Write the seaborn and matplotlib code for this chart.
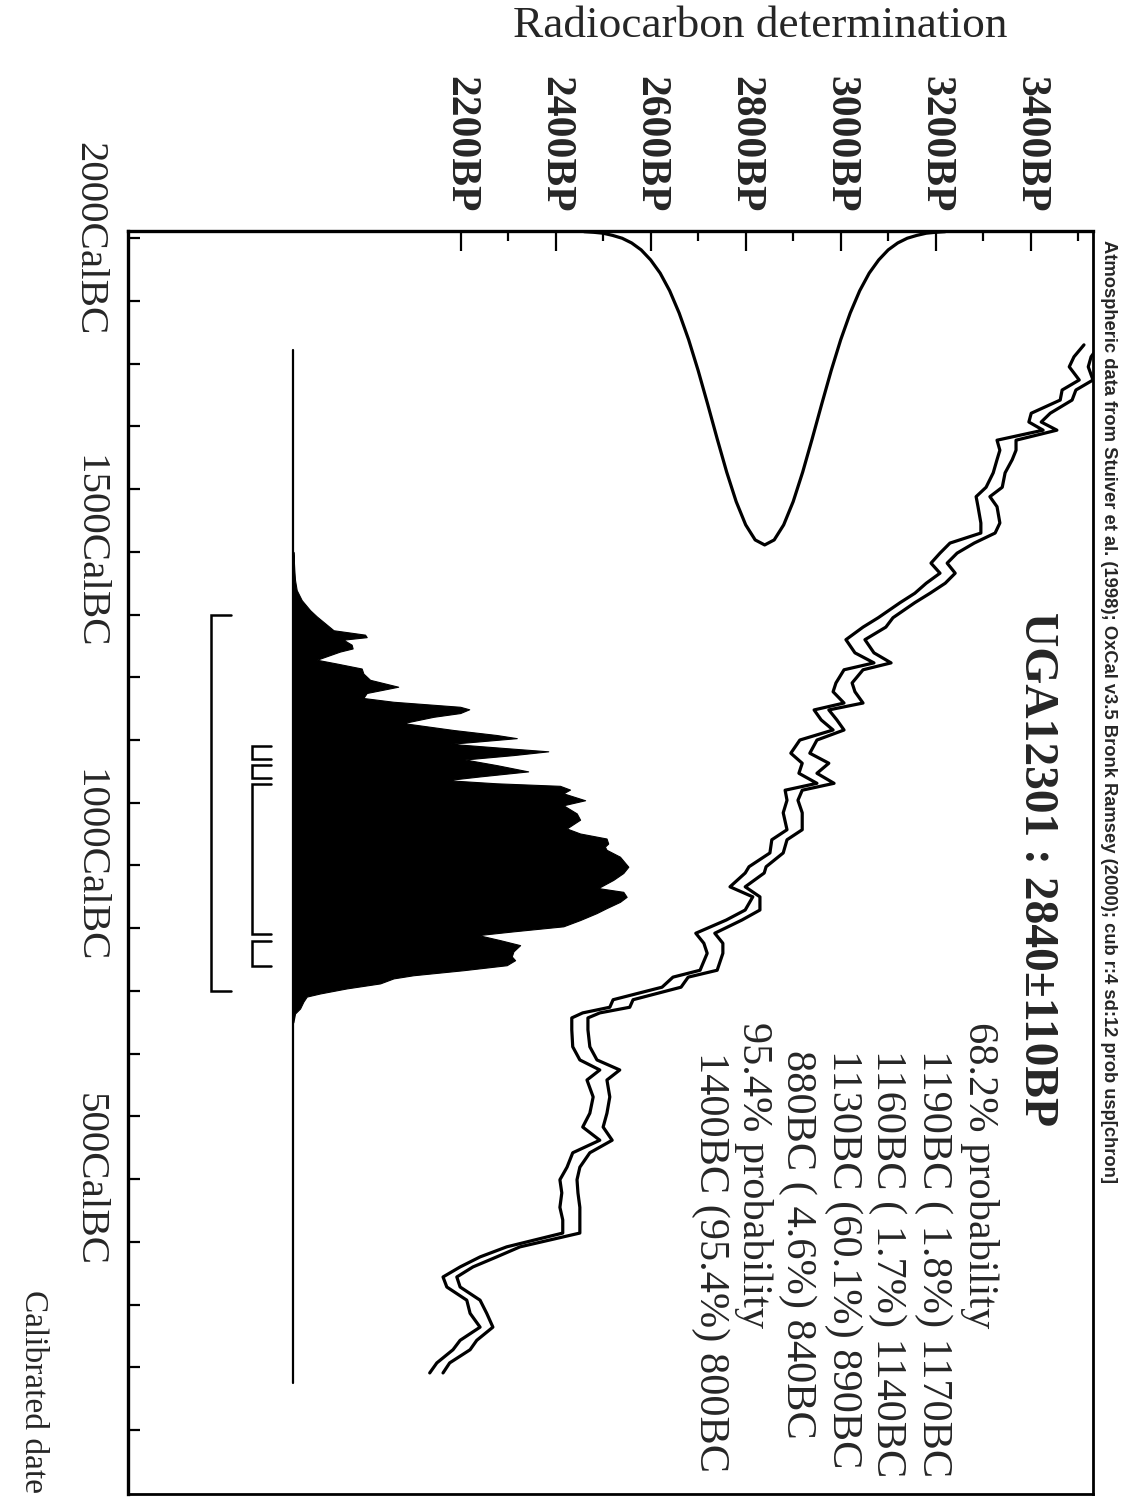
import numpy as np
import pandas as pd
import matplotlib
matplotlib.use("Agg")
import matplotlib.pyplot as plt
import seaborn as sns
from matplotlib import font_manager

# ---------------- data ----------------
# calibration curve (date in cal BC, lower / upper 1-sigma line in BP)
cal_dates = [1830, 1811, 1795, 1774, 1758, 1742, 1721, 1707, 1694, 1678, 1662, 1647, 1626, 1603, 1588, 1572,
             1546, 1530, 1514, 1498, 1482, 1466, 1450, 1434, 1419, 1395, 1380, 1360, 1339, 1323, 1312,
             1291, 1277, 1259, 1248, 1232, 1216, 1200, 1179, 1163, 1147, 1131, 1120, 1104, 1084, 1057,
             1041, 1020, 998, 988, 966, 950, 929, 913, 892, 876, 860, 833, 822, 806, 786,
             774, 765, 757, 738, 711, 690, 674, 658, 631, 605, 583, 562, 542, 519, 499,
             478, 455, 435, 414, 392, 376, 360, 344, 328, 307, 286, 264, 243, 228, 207, 191]
cal_lo = [3512, 3491, 3481, 3502, 3466, 3462, 3401, 3396, 3426, 3329, 3335, 3329, 3321, 3306, 3285, 3289,
          3295, 3295, 3230, 3209, 3190, 3209, 3180, 3156, 3125, 3079, 3047, 3011, 3030, 3070, 3007,
          2990, 2984, 3007, 2944, 2959, 2984, 2914, 2895, 2919, 2912, 2950, 2883, 2887, 2879, 2887,
          2855, 2851, 2807, 2799, 2767, 2815, 2799, 2759, 2695, 2712, 2719, 2704, 2647, 2624, 2521,
          2514, 2457, 2434, 2434, 2436, 2451, 2493, 2466, 2479, 2472, 2457, 2493, 2436, 2424, 2409,
          2413, 2409, 2415, 2415, 2297, 2241, 2199, 2163, 2171, 2213, 2220, 2241, 2199, 2184, 2150, 2135]
cal_hi = [3545, 3527, 3521, 3531, 3495, 3487, 3441, 3422, 3455, 3369, 3369, 3361, 3346, 3340, 3314, 3329,
          3335, 3325, 3281, 3245, 3224, 3241, 3220, 3188, 3156, 3110, 3095, 3051, 3070, 3106, 3047,
          3024, 3030, 3047, 2975, 2992, 3007, 2950, 2935, 2975, 2950, 2986, 2919, 2910, 2919, 2919,
          2887, 2879, 2843, 2839, 2799, 2830, 2830, 2792, 2735, 2752, 2752, 2740, 2679, 2664, 2563,
          2556, 2493, 2468, 2468, 2472, 2487, 2535, 2508, 2514, 2508, 2500, 2519, 2472, 2451, 2445,
          2447, 2451, 2451, 2451, 2325, 2276, 2226, 2192, 2199, 2241, 2255, 2268, 2234, 2220, 2177, 2163]

# radiocarbon determination 2840 +/- 110 BP (relative heights)
gauss_bp = [2460, 2480, 2500, 2520, 2540, 2560, 2580, 2600, 2620, 2640, 2660, 2680, 2700, 2720,
            2740, 2760, 2780, 2800, 2820, 2840, 2860, 2880, 2900, 2920, 2940, 2960, 2980, 3000,
            3020, 3040, 3060, 3080, 3100, 3120, 3140, 3160, 3180, 3200, 3220]
gauss_h = [0.003, 0.005, 0.008, 0.015, 0.024, 0.039, 0.061, 0.093, 0.135, 0.191, 0.262, 0.347, 0.445, 0.552,
           0.662, 0.768, 0.862, 0.936, 0.984, 1.0, 0.984, 0.936, 0.862, 0.768, 0.662, 0.552, 0.445, 0.347,
           0.262, 0.191, 0.135, 0.093, 0.061, 0.039, 0.024, 0.015, 0.008, 0.005, 0.003]

# calibrated (posterior) probability distribution, relative height
post_dates = [1500, 1470, 1455, 1439, 1423, 1407, 1397, 1386, 1375, 1368, 1364, 1360, 1352, 1346, 1341,
              1328, 1322, 1314, 1306, 1296, 1285, 1275, 1267, 1261, 1253, 1249, 1243, 1237, 1227, 1216,
              1208, 1203, 1197, 1194, 1187, 1182, 1176, 1169, 1160, 1150, 1142, 1136, 1131, 1127, 1121,
              1115, 1104, 1096, 1083, 1073, 1059, 1051, 1043, 1035, 1030, 1025, 1014, 998, 988, 977,
              964, 958, 950, 942, 932, 924, 913, 903, 895, 889, 881, 873, 863, 855, 849,
              841, 833, 825, 820, 812, 804, 796, 791, 783, 772, 764, 750]
post_p = [0.0, 0.003, 0.005, 0.01, 0.025, 0.05, 0.07, 0.095, 0.12, 0.214, 0.219, 0.149, 0.174, 0.177, 0.139,
          0.07, 0.129, 0.204, 0.209, 0.229, 0.313, 0.219, 0.209, 0.299, 0.498, 0.525, 0.498, 0.418, 0.328, 0.478,
          0.607, 0.667, 0.537, 0.468, 0.637, 0.761, 0.657, 0.512, 0.607, 0.701, 0.557, 0.458, 0.607, 0.796, 0.826,
          0.806, 0.871, 0.806, 0.846, 0.856, 0.816, 0.856, 0.935, 0.940, 0.930, 0.935, 0.975, 1.0, 0.985, 0.955,
          0.910, 0.985, 0.995, 0.975, 0.935, 0.905, 0.856, 0.806, 0.657, 0.552, 0.617, 0.677, 0.657, 0.652, 0.662,
          0.637, 0.507, 0.358, 0.299, 0.259, 0.159, 0.080, 0.040, 0.030, 0.020, 0.005, 0.0]
calib_range = [1822, 175]          # date span of the calibrated plot baseline

# probability ranges (start BC, end BC)
ranges_68 = [(1190, 1170), (1160, 1140), (1130, 890), (880, 840)]
ranges_95 = [(1400, 800)]

bp_ticks = [2200, 2400, 2600, 2800, 3000, 3200, 3400]
bp_minor = [2300, 2500, 2700, 2900, 3100, 3300, 3500]
date_ticks = [2000, 1500, 1000, 500]
date_minor = list(range(100, 2000, 100))

title = "UGA12301 : 2840\u00b1110BP"
prob_lines = ["68.2% probability",
              "1190BC ( 1.8%) 1170BC",
              "1160BC ( 1.7%) 1140BC",
              "1130BC (60.1%) 890BC",
              "880BC ( 4.6%) 840BC",
              "95.4% probability",
              "1400BC (95.4%) 800BC"]
credit = ("Atmospheric data from Stuiver et al. (1998); OxCal v3.5 Bronk Ramsey (2000); "
          "cub r:4 sd:12 prob usp[chron]")

# ---------------- style / layout ----------------
sns.set_theme(style="white")
plt.rcParams['font.family'] = ['Liberation Serif', 'DejaVu Serif']
plt.rcParams['ytick.alignment'] = 'center'

names = {f.name for f in font_manager.fontManager.ttflist}
narrow = 'Liberation Sans Narrow' if 'Liberation Sans Narrow' in names else 'Liberation Sans'

W, H = 1144, 1497
fig = plt.figure(figsize=(W / 100, H / 100), dpi=100)
fig.patch.set_facecolor('white')
L, R, T, B = 128, 1093, 230.7, 1494
ax = fig.add_axes([L / W, 1 - B / H, (R - L) / W, (B - T) / H])
ax.set_facecolor('white')
ax.set_xlim(1500, 3531)
ax.set_ylim(-2, 2012)

LW = 2.3
# calibration curve
sns.lineplot(x=cal_lo, y=cal_dates, sort=False, estimator=None, color='black', lw=LW, ax=ax)
sns.lineplot(x=cal_hi, y=cal_dates, sort=False, estimator=None, color='black', lw=LW, ax=ax)

# radiocarbon gaussian hanging from top
GAUSS_TOP, GAUSS_PEAK = 2012, 1511
g_y = [GAUSS_TOP - (GAUSS_TOP - GAUSS_PEAK) * h for h in gauss_h]
sns.lineplot(x=gauss_bp, y=g_y, sort=False, estimator=None, color='black', lw=LW, ax=ax)

# posterior distribution
BASE_BP, POST_SCALE = 1848, 705
post_x = [BASE_BP + POST_SCALE * p for p in post_p]
ax.fill_betweenx(post_dates, BASE_BP, post_x, color='black', lw=0.8, edgecolor='black')
sns.lineplot(x=[BASE_BP, BASE_BP], y=calib_range, sort=False, estimator=None, color='black', lw=1.6, ax=ax)

# range brackets
def bracket(a, b, x0, tick):
    ax.plot([x0 + tick, x0, x0, x0 + tick], [a, a, b, b], color='black', lw=1.8,
            solid_joinstyle='miter')

for a, b in ranges_68:
    bracket(a, b, 1760, 42)
for a, b in ranges_95:
    bracket(a, b, 1674, 42)

# axes / ticks
for s in ax.spines.values():
    s.set_color('black')
    s.set_linewidth(2.0)
ax.spines['top'].set_linewidth(2.4)
ax.spines['left'].set_linewidth(2.4)

ax.xaxis.tick_top()
ax.set_xticks(bp_ticks, labels=[f"{v}BP" for v in bp_ticks])
ax.set_xticks(bp_minor, minor=True)
ax.tick_params(axis='x', which='major', direction='in', length=14.4, width=1.6, color='black',
               top=True, bottom=False, labeltop=True, labelbottom=False, pad=13,
               labelrotation=-90, labelsize=30)
ax.tick_params(axis='x', which='minor', direction='in', length=7.2, width=1.6, color='black',
               top=True, bottom=False)
for t in ax.get_xticklabels():
    t.set_fontweight('bold')

ax.set_yticks(date_ticks, labels=[f"{v}CalBC" for v in date_ticks])
ax.set_yticks(date_minor, minor=True)
ax.tick_params(axis='y', which='both', direction='in', length=8.6, width=1.6, color='black',
               left=True, right=False, labelleft=True)
ax.tick_params(axis='y', which='major', labelrotation=-90, labelsize=29.5, pad=15)

# texts
def vtext(x, y, s, **kw):
    return fig.text(x / W, 1 - y / H, s, rotation=-90, ha='center', va='top', **kw)

t_title = vtext(1037, 612, title, fontsize=34, fontweight='bold')
xs = [980, 933, 887, 843, 797, 753, 710]
ys = [1022, 1050, 1050, 1050, 1050, 1022, 1052]
for x, y, s in zip(xs, ys, prob_lines):
    vtext(x, y, s, fontsize=30.5)
t_credit = vtext(1108, 240, credit, fontsize=14, fontweight='bold', family=narrow)
t_cal = vtext(33, 1290, "Calibrated date", fontsize=26)
t_rad = fig.text(760 / W, 1 - 26 / H, "Radiocarbon determination", ha='center', va='center', fontsize=32)

# fit a few long texts to their measured lengths in the reference
fig.canvas.draw()
r = fig.canvas.get_renderer()
for t, target, vertical in [(t_credit, 943, True), (t_rad, 494, False), (t_title, 515, True),
                            (t_cal, 203, True)]:
    for _ in range(2):
        bb = t.get_window_extent(r)
        cur = bb.height if vertical else bb.width
        t.set_fontsize(t.get_fontsize() * target / cur)
        fig.canvas.draw()

fig.savefig("out.png", dpi=100, facecolor='white')
